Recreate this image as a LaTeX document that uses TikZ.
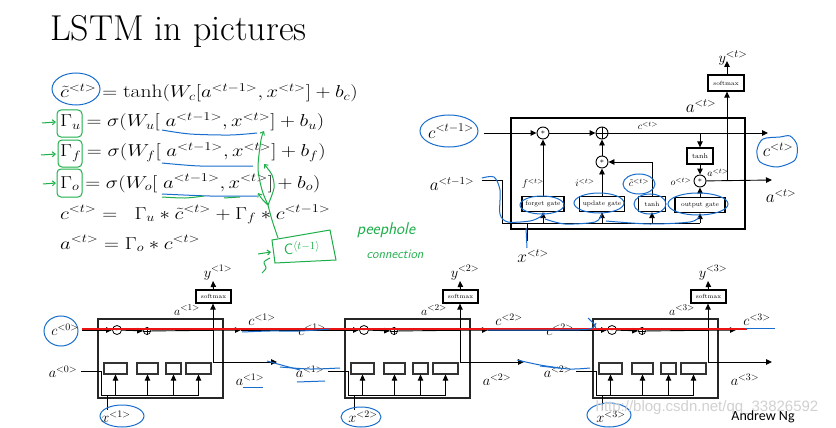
\documentclass[tikz,border=0pt]{standalone}
\usepackage{fontspec}
\usepackage{amsmath}
\usepackage{graphicx}
\newfontfamily\ngfont{Carlito}
\newfontfamily\wmfont{Liberation Sans}
\usetikzlibrary{arrows.meta}
\definecolor{annblue}{RGB}{25,110,205}
\definecolor{anngreen}{RGB}{30,175,75}
\definecolor{annred}{RGB}{235,20,20}
\begin{document}
\begin{tikzpicture}[x=1pt,y=-1pt,
  arr/.style={-{Triangle[length=6pt,width=5.5pt]}},
  ln/.style={line width=0.9pt},
  mult/.style={circle,draw,line width=0.9pt,minimum size=12pt,inner sep=0pt,font=\fontsize{8}{8}\selectfont},
  plusc/.style={circle,draw,line width=0.9pt,minimum size=12pt,inner sep=0pt},
  bmult/.style={circle,draw,line width=0.8pt,minimum size=9pt,inner sep=0pt,font=\fontsize{6}{6}\selectfont},
  bplus/.style={circle,draw,line width=0.7pt,minimum size=7pt,inner sep=0pt},
  gatebox/.style={draw,line width=1.3pt,fill=white,inner sep=0pt,minimum height=15pt,font=\fontsize{6.5}{7}\selectfont},
  bgate/.style={draw,line width=1.2pt,draw=black!80,fill=white,inner sep=0pt,minimum height=11pt},
  smbox/.style={draw,line width=1.3pt,fill=white,inner sep=0pt,font=\fontsize{6}{6}\selectfont},
  cellbox/.style={draw=black!85,line width=1.3pt},
  eq/.style={anchor=base west,inner sep=0pt,font=\fontsize{18}{20}\selectfont},
  lab/.style={inner sep=0pt,font=\fontsize{16}{16}\selectfont},
  blab/.style={inner sep=0pt,font=\fontsize{14}{14}\selectfont},
  slab/.style={inner sep=0pt,font=\fontsize{10}{10}\selectfont},
  hb/.style={draw=annblue,line width=1pt},
  hg/.style={draw=anngreen,line width=1pt},
  gtxt/.style={text=anngreen,inner sep=0pt,font=\sffamily\itshape}
]
\useasboundingbox (0,0) rectangle (836,428);
\fill[white] (0,0) rectangle (836,428);

% ---------------- title
\node[anchor=base west,inner sep=0pt,font=\fontsize{36}{40}\selectfont] (title) at (50,41) {LSTM in pictures};

% ---------------- equations
\node[eq] (e1) at (60,98) {\scalebox{1.2}[1]{$\tilde{c}^{<t>} = \tanh(W_c[a^{<t-1>}, x^{<t>}] + b_c)$}};
\node[eq] (e2) at (60,127) {\scalebox{1.2}[1]{$\Gamma_u = \sigma(W_u[\;a^{<t-1>}, x^{<t>}] + b_u)$}};
\node[eq] (e3) at (60,157) {\scalebox{1.2}[1]{$\Gamma_f = \sigma(W_f[\;a^{<t-1>}, x^{<t>}] + b_f)$}};
\node[eq] (e4) at (60,188) {\scalebox{1.2}[1]{$\Gamma_o = \sigma(W_o[\;a^{<t-1>}, x^{<t>}] + b_o)$}};
\node[eq] (e5) at (60,219) {\scalebox{1.2}[1]{$c^{<t>} = \;\; \Gamma_u * \tilde{c}^{<t>} + \Gamma_f * c^{<t-1>}$}};
\node[eq] (e6) at (60,249) {\scalebox{1.2}[1]{$a^{<t>} = \Gamma_o * c^{<t>}$}};

% handwritten annotations on equations
\draw[hb] (76,89) ellipse (24 and 16);
\draw[hg,rounded corners=4] (57,110) rectangle (82,137);
\draw[hg,rounded corners=4] (58,140) rectangle (82,167);
\draw[hg,rounded corners=4] (57,169) rectangle (82,197);
\draw[hg,-{Straight Barb[length=3pt,width=5pt]}] (42,123) -- (56,122);
\draw[hg,-{Straight Barb[length=3pt,width=5pt]}] (41,155) -- (56,154);
\draw[hg,-{Straight Barb[length=3pt,width=5pt]}] (43,184) -- (56,183);
\draw[hb] plot[smooth] coordinates {(162,130) (190,134) (230,135) (257,133)};
\draw[hb] plot[smooth] coordinates {(162,163) (200,166) (253,166)};
\draw[hb] plot[smooth] coordinates {(162,194) (210,196) (257,196)};
\draw[hg] plot[smooth] coordinates {(162,197) (185,198) (204,196)};
\draw[hg] (224,198) -- (240,197);
\coordinate (pk) at (268,205);
\draw[hg] plot[smooth] coordinates {(278,238) (272,220) (268,205)};
\draw[hg,-{Straight Barb[length=3pt,width=5pt]}] plot[smooth] coordinates {(268,205) (262,190) (258,168) (261,140) (264,131)};
\draw[hg,-{Straight Barb[length=3pt,width=5pt]}] plot[smooth] coordinates {(268,205) (274,188) (272,175) (264,164)};
\draw[hg,-{Straight Barb[length=3pt,width=5pt]}] plot[smooth] coordinates {(268,205) (262,199) (258,193)};
\draw[hg] (272,240) -- (330,230) -- (336,260) -- (275,263) -- cycle;
\node[gtxt,font=\sffamily\fontsize{15}{15}\selectfont] (cbox) at (302,248) {C$^{\langle t-1\rangle}$};
\draw[hg,-{Straight Barb[length=3pt,width=5pt]}] (258,254) -- (271,252);
\draw[hg] plot[smooth] coordinates {(270,258) (264,262) (266,268) (262,273)};
\node[gtxt,font=\sffamily\itshape\fontsize{17}{17}\selectfont] (peep) at (386,230) {peephole};
\node[gtxt,font=\sffamily\itshape\fontsize{13}{13}\selectfont] (conn) at (395,254) {connection};

% ---------------- top-right LSTM cell
\draw[line width=1.3pt] (511,118) rectangle (745,229);
\node[lab,font=\fontsize{17}{17}\selectfont] (cin) at (451,131) {$c^{<t-1>}$};
\coordinate (cinS) at (484,133);
\node[mult] (m1) at (543,133) {$\ast$};
\node[plusc] (p1) at (602,133) {};
\draw[line width=0.9pt] (p1.north) -- (p1.south) (p1.west) -- (p1.east);
\coordinate (cout) at (768,133);
\draw[ln,arr] (cinS) -- (m1);
\draw[ln,arr] (m1) -- (p1);
\draw[ln,arr] (p1) -- (cout);
\node[slab] (ctl) at (648,126) {$c^{<t>}$};
\node[gatebox,minimum width=26pt,minimum height=16pt,font=\fontsize{7}{7}\selectfont] (th1) at (700,156) {tanh};
\draw[ln,arr] (th1.north |- cout) -- (th1);
\node[mult] (m3) at (700,181) {$\ast$};
\draw[ln,arr] (th1) -- (m3);
\coordinate (aout) at (772,180);
\draw[ln,arr] (m3) -- (aout);
\node[slab] (atl) at (718,173) {$a^{<t>}$};
\node[smbox,minimum width=36pt,minimum height=16pt] (sm) at (726,83) {softmax};
\coordinate (vb) at (727,180);
\draw[ln,arr] (vb) -- (vb |- sm.south);
\coordinate (yt) at (727,61);
\draw[ln,arr] (sm.north -| yt) -- (yt);
\node[lab,anchor=base,font=\fontsize{15}{15}\selectfont] (ylab) at (733,63) {$y^{<t>}$};
\node[lab] (alab) at (701,106) {$a^{<t>}$};
\node[lab,font=\fontsize{17}{17}\selectfont] (coutlab) at (778,150) {$c^{<t>}$};
\node[lab] (aoutlab) at (781,196) {$a^{<t>}$};

\node[gatebox,minimum width=42pt] (fg) at (543,204) {forget gate};
\node[gatebox,minimum width=45pt] (ug) at (602,204) {update gate};
\node[gatebox,minimum width=27pt] (tg) at (652,204) {tanh};
\node[gatebox,minimum width=50pt] (og) at (700,205) {output gate};
\node[mult] (m2) at (602,162) {$\ast$};
\draw[ln,arr] (fg) -- (m1);
\draw[ln,arr] (ug) -- (m2);
\draw[ln,arr] (m2) -- (p1);
\draw[ln,arr] (tg.north) |- (m2);
\draw[ln,arr] (og) -- (m3);
\node[slab] (fl) at (533,184) {$f^{<t>}$};
\node[slab] (il) at (585,183) {$i^{<t>}$};
\node[slab] (ctil) at (639,183) {$\tilde{c}^{<t>}$};
\node[slab] (ol) at (681,182) {$o^{<t>}$};

\node[lab] (ain) at (452,184) {$a^{<t-1>}$};
\coordinate (ainS) at (482,180);
\coordinate (bus0) at (502,223);
\coordinate (bus1) at (700,223);
\draw[ln] (ainS) -| (bus0) -- (bus1);
\node[lab] (xin) at (533,256) {$x^{<t>}$};
\coordinate (xinS) at (527,241);
\draw[ln] (xinS) -- (xinS |- bus0);
\foreach \g in {fg,ug,tg,og}{\draw[ln,arr] (\g.south |- bus0) -- (\g.south);}

% blue annotations top cell
\draw[hb] (449,131) ellipse (29 and 16);
\draw[hb] plot[smooth cycle] coordinates {(757,150) (763,139) (780,137) (790,136) (797,145) (795,160) (777,167) (760,162)};
\draw[hb] (639,184) ellipse (16 and 10);
\draw[hb] (542,205) ellipse (22 and 9);
\draw[hb] (599,203) ellipse (25 and 10);
\draw[hb] (650,204) ellipse (16 and 10);
\draw[hb] (698,204) ellipse (30 and 11);
\draw[hb] plot[smooth] coordinates {(482,178) (494,177) (500,190) (500,214) (508,222) (530,221) (540,217) (545,213)};
\draw[hb] plot[smooth] coordinates {(545,219) (565,224) (595,222) (602,214)};
\draw[hb] plot[smooth] coordinates {(606,221) (650,224) (690,222) (699,217)};
\draw[hb] (526,228) -- (527,248);

% ---------------- bottom chain
\foreach \i/\x in {1/98,2/345,3/593}{
  \pgfmathtruncatemacro\prev{\i-1}
  \begin{scope}[shift={(\x,319)}]
    \draw[cellbox] (0,0) rectangle (125,79);
    \node[bmult] (bm\i) at (19,11) {$\ast$};
    \node[bplus] (bp\i) at (49,12) {};
    \draw[line width=0.6pt] (bp\i.north) -- (bp\i.south) (bp\i.west) -- (bp\i.east);
    \coordinate (cin\i) at (-16,11);
    \coordinate (cout\i) at (143,11);
    \draw[ln,arr] (cin\i) -- (bm\i);
    \draw[ln,arr] (bm\i) -- (bp\i);
    \draw[ln,arr] (bp\i) -- (cout\i);
    \node[bgate,minimum width=23pt] (g1\i) at (17.5,49.5) {};
    \node[bgate,minimum width=21pt] (g2\i) at (49.5,49.5) {};
    \node[bgate,minimum width=15pt] (g3\i) at (75.5,49.5) {};
    \node[bgate,minimum width=25pt] (g4\i) at (100.5,49.5) {};
    \coordinate (ain\i) at (-17,52);
    \coordinate (bl\i) at (3,76);
    \coordinate (br\i) at (101,76);
    \draw[ln] (ain\i) -| (bl\i) -- (br\i);
    \coordinate (xs\i) at (9,91);
    \draw[ln] (xs\i) -- (xs\i |- bl\i);
    \foreach \g in {g1,g2,g3,g4}{\draw[ln,arr] (\g\i.south |- bl\i) -- (\g\i.south);}
    \node[smbox,minimum width=35pt,minimum height=13pt] (sm\i) at (115.5,-22.5) {softmax};
    \coordinate (vb\i) at (115,43);
    \draw[ln,arr] (vb\i) -- (vb\i |- sm\i.south);
    \coordinate (yt\i) at (115,-38);
    \draw[ln,arr] (sm\i.north) -- (yt\i);
    \coordinate (ao\i) at (179,43);
    \draw[ln,arr] (vb\i) -- (ao\i);
    \node[blab,anchor=base] (yl\i) at (120,-42) {$y^{<\i>}$};
    \node[blab,font=\fontsize{13}{13}\selectfont] (aa\i) at (89,-9) {$a^{<\i>}$};
    \node[blab] (cl\i) at (164,1) {$c^{<\i>}$};
    \node[blab] (al\i) at (152,61) {$a^{<\i>}$};
    \node[blab] (cil\i) at (-33,11) {$c^{<\prev>}$};
    \node[blab] (ail\i) at (-35,53) {$a^{<\prev>}$};
    \node[blab] (xl\i) at (18,98) {$x^{<\i>}$};
  \end{scope}
}
\draw[ln] (cout1) -- (cin2);
\draw[ln] (cout2) -- (cin3);
\draw[annred,line width=1.4pt] (82,329) -- (747,329);

% blue annotations bottom
\draw[hb] (61,331) ellipse (17 and 15);
\draw[hb] (122,416) ellipse (22 and 11);
\draw[hb] (361,417) ellipse (20 and 10);
\draw[hb] (609,415) ellipse (22 and 12);
\draw[hb] plot[smooth] coordinates {(242,332) (270,331) (300,331) (330,329)};
\draw[hb] plot[smooth] coordinates {(487,330) (520,330) (560,330) (590,329) (596,323)};
\draw[hb] plot[smooth] coordinates {(588,318) (594,324) (596,329)};
\draw[hb] (745,328) -- (775,328);
\draw[hb] plot[smooth] coordinates {(267,361) (285,366) (300,370)};
\draw[hb] plot[smooth] coordinates {(280,367) (310,369) (340,368)};
\draw[hb] (243,387) -- (263,387);
\draw[hb] (297,382) -- (325,381);
\draw[hb] plot[smooth] coordinates {(517,360) (540,365) (560,368)};
\draw[hb] plot[smooth] coordinates {(540,366) (570,369) (590,368)};

% credits
\node[inner sep=0pt,text=black!18,font=\wmfont\fontsize{15}{15}\selectfont] (wm) at (707,408) {http://blog.csdn.net/qq\_33826592};
\node[inner sep=0pt,font=\ngfont\fontsize{14}{14}\selectfont] (ng) at (763,417) {Andrew Ng};
\end{tikzpicture}
\end{document}
